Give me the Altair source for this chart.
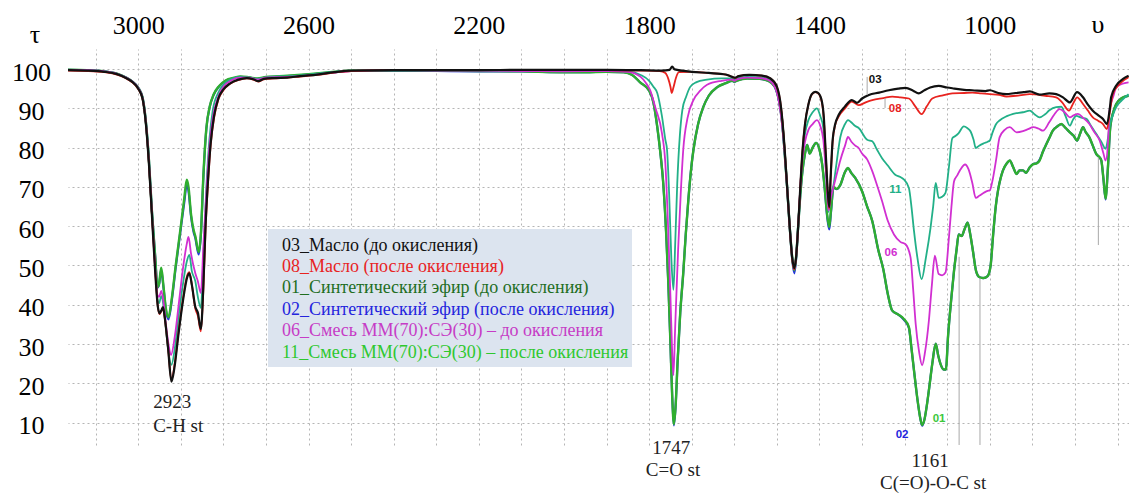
import altair as alt
import pandas as pd

# ---------------- data (wavenumber cm-1, transmittance %) ----------------
S03 = [(3165,99.7),(3120,99.6),(3080,99.3),(3050,98.7),(3030,97.8),(3015,96.8),(3000,95.0),(2990,92.5),(2982,86),(2975,76),
       (2968,63),(2960,48),(2954,39.5),(2950,37.8),(2946,38.5),(2942,39.4),(2938,37),(2930,29),(2922,20.4),(2915,24),
       (2905,33),(2895,41),(2885,47),(2880,48),(2874,45),(2866,39.5),(2860,38),(2853,33.8),(2847,45),(2842,60),
       (2836,72),(2830,81),(2822,88),(2812,92.5),(2800,94.8),(2785,96.3),(2765,97.3),(2745,97.7),(2730,97.4),(2718,96.9),
       (2705,97.5),(2680,97.7),(2650,97.8),(2620,98.2),(2580,98.6),(2540,99.2),(2500,99.6),(2400,99.7),(2300,99.7),(2200,99.7),
       (2100,99.8),(2000,99.8),(1900,99.8),(1820,99.7),(1770,99.6),(1752,99.8),(1746,100.6),(1740,99.9),(1700,99.3),(1660,99.0),
       (1620,98.6),(1605,98.0),(1598,97.8),(1590,98.2),(1565,98.5),(1535,98.3),(1515,97.6),(1500,95.5),(1490,90),(1482,80),
       (1476,70),(1470,60),(1464,52),(1459,49.3),(1455,52),(1450,60),(1445,70),(1440,79),(1434,86),(1426,91),
       (1418,93.6),(1410,94.2),(1404,94.0),(1396,92.5),(1390,88),(1385,78),(1380,68),(1377,64.9),(1374,72),(1369,82),
       (1363,86),(1355,88.3),(1340,90.5),(1324,92.1),(1312,91.4),(1300,92.5),(1284,93.4),(1260,94.0),(1237,94.6),(1215,95.0),
       (1198,95.2),(1180,94.5),(1167,93.8),(1155,94.5),(1140,95.3),(1120,95.7),(1100,95.3),(1088,95.1),(1060,94.7),(1041,94.6),
       (1010,94.4),(1000,94.6),(980,93.9),(961,93.6),(940,93.9),(920,94.1),(906,94.3),(883,93.5),(860,93.8),(844,93.6),
       (828,92.8),(812,91.5),(795,94.1),(781,92.8),(770,91),(758,89.4),(745,88.2),(734,87.3),(725,86.0),(718,90),
       (715,92.8),(703,95.8),(687,97.5),(674,98.3)]

S08 = [(3165,99.6),(3120,99.5),(3080,99.2),(3050,98.6),(3030,97.7),(3015,96.7),(3000,94.9),(2990,92.4),(2982,86),(2975,76),
       (2968,63),(2960,48.5),(2954,39.5),(2950,37.6),(2946,38.3),(2942,39.2),(2938,36.8),(2930,29),(2922,20.8),(2915,24.5),
       (2905,33.5),(2895,41.5),(2885,47.5),(2880,48.3),(2874,45),(2866,39),(2860,37.2),(2853,33.2),(2847,44),(2842,59),
       (2836,71),(2830,80.5),(2822,87.5),(2812,92.2),(2800,94.6),(2785,96.2),(2765,97.2),(2745,97.6),(2730,97.3),(2718,96.8),
       (2705,97.4),(2680,97.6),(2650,97.8),(2620,98.1),(2580,98.5),(2540,99.1),(2500,99.5),(2400,99.7),(2300,99.7),(2200,99.8),
       (2100,99.7),(2000,99.8),(1900,99.7),(1820,99.6),(1775,99.5),(1762,99.0),(1755,97.5),(1750,95.5),(1747,93.9),(1743,95.3),
       (1737,97.8),(1730,99.2),(1700,99.3),(1660,99.0),(1620,98.6),(1605,98.0),(1598,97.7),(1590,98.2),(1565,98.5),(1535,98.3),
       (1515,97.6),(1500,95.5),(1490,90),(1482,80),(1476,70),(1470,60),(1464,51.5),(1459,49.0),(1455,52),(1450,60),
       (1445,70),(1440,79),(1434,86),(1426,91),(1418,93.5),(1410,94.1),(1404,93.9),(1396,92.3),(1390,87.5),(1385,77.5),
       (1380,67.5),(1377,64.5),(1374,71.5),(1369,81.5),(1363,85.8),(1355,87.9),(1340,90),(1324,91.7),(1308,90.8),(1290,91.6),
       (1276,92.1),(1250,92.6),(1229,93.0),(1210,92.8),(1190,92.5),(1175,90.5),(1160,88.5),(1148,90.5),(1135,92.5),(1110,93.3),
       (1088,93.8),(1060,93.9),(1041,94.0),(1020,93.8),(1000,93.6),(978,93.4),(961,93.0),(930,93.3),(906,93.6),(870,93.2),
       (844,92.8),(830,91.5),(814,89.4),(803,91.5),(795,92.8),(781,91.1),(770,89.5),(758,87.7),(745,86.8),(734,86.0),
       (725,84.7),(718,89),(711,93.6),(695,96.2),(674,97.9)]

S01 = [(3165,99.8),(3120,99.7),(3080,99.4),(3050,98.8),(3030,97.9),(3015,96.9),(3000,95.2),(2990,92.8),(2982,86.5),(2975,77),
       (2968,64),(2960,52),(2955,44.5),(2951,45.5),(2946,49.4),(2941,45),(2935,39),(2929,36.8),(2922,41),(2912,50),
       (2900,60),(2892,67),(2886,71.8),(2882,70),(2876,63),(2870,59),(2866,57.5),(2858,53.4),(2853,58),(2847,73),
       (2840,85),(2832,90.5),(2823,93.5),(2810,95.7),(2795,97.1),(2775,97.8),(2760,98.1),(2740,97.9),(2720,97.6),(2700,98.0),
       (2650,98.3),(2600,98.7),(2550,99.2),(2500,99.6),(2400,99.7),(2300,99.6),(2200,99.5),(2100,99.4),(2000,99.2),(1950,99.2),
       (1900,99.3),(1860,99.2),(1840,98.5),(1820,96.5),(1800,94.5),(1790,91.5),(1781,85.3),(1774,79),(1767,71),(1760,58),
       (1755,45.5),(1750,30),(1746,17),(1742,9.6),(1738,14),(1733,26),(1727,38),(1720,48),(1714,58),(1708,66.7),
       (1700,76),(1696,79.4),(1685,86),(1673,90.3),(1660,93.2),(1640,95.4),(1620,96.4),(1605,97.0),(1600,96.8),(1595,97.0),
       (1570,97.6),(1540,97.5),(1520,97.0),(1505,95.5),(1495,92),(1488,87),(1482,79),(1476,70),(1470,60),(1464,52),
       (1459,48.8),(1455,52),(1450,60),(1445,68),(1440,74),(1434,78.5),(1429,80.7),(1423,78.5),(1416,80),(1408,81.2),
       (1400,79.5),(1394,76),(1388,70),(1382,63),(1377,59.8),(1373,64),(1367,70),(1360,69.5),(1351,70.5),(1340,73.8),
       (1333,74.8),(1325,73.5),(1316,72.3),(1300,68.9),(1288,65),(1276,61.3),(1262,54),(1250,49),(1240,43),(1229,38.5),
       (1215,37.5),(1202,36.4),(1190,34.3),(1184,29),(1178,23.3),(1170,16),(1163,11),(1159,9.4),(1153,11),(1147,15),
       (1142,19.1),(1135,25),(1127,30.1),(1121,27),(1116,25),(1108,23.5),(1103,23.5),(1098,32),(1090,42),(1084,48.6),
       (1078,54),(1073,57.9),(1066,57.5),(1060,59),(1052,60.9),(1046,58),(1040,54),(1032,48.5),(1024,47),(1015,46.8),
       (1005,47.3),(998,50),(992,58),(986,65),(980,69.5),(975,72),(969,74.2),(960,76),(953,76.7),(945,75),
       (937,73.3),(930,74.2),(922,74.2),(915,73.6),(906,75),(898,75.8),(890,76),(883,76.7),(875,79),(867,80.9),
       (860,82.5),(852,84.3),(840,85.5),(832,86),(822,85),(812,83.9),(803,83),(795,81.8),(788,83.5),(781,85.2),
       (775,84),(766,82.6),(758,80.5),(750,78.4),(742,77.5),(738,76.7),(733,72),(728,67),(723,74),(717,85.2),
       (710,89),(703,91.1),(690,92.6),(674,93.2)]

S02 = [(3165,99.8),(3120,99.7),(3080,99.4),(3050,98.8),(3030,97.9),(3015,96.9),(3000,95.2),(2990,92.8),(2982,86.5),(2975,77),
       (2968,64),(2960,52),(2955,44.3),(2951,45.2),(2946,48.8),(2941,44.6),(2935,38.6),(2929,36.3),(2922,40.5),(2912,49.5),
       (2900,59.5),(2892,66),(2886,70.6),(2882,69),(2876,62.5),(2870,58.5),(2866,57),(2858,52.8),(2853,57.5),(2847,72.5),
       (2840,84.8),(2832,90.4),(2823,93.4),(2810,95.6),(2795,97.0),(2775,97.7),(2760,98.0),(2740,97.8),(2720,97.5),(2700,97.9),
       (2650,98.2),(2600,98.6),(2550,99.1),(2500,99.5),(2400,99.6),(2300,99.5),(2200,99.4),(2100,99.4),(2000,99.2),(1950,99.2),
       (1900,99.3),(1860,99.2),(1840,98.5),(1820,96.5),(1800,94.5),(1790,91.5),(1781,85.3),(1774,79),(1767,71),(1760,58),
       (1755,45.5),(1750,30),(1746,17),(1742,9.3),(1738,14),(1733,26),(1727,38),(1720,48),(1714,58),(1708,66.7),
       (1700,76),(1696,79.4),(1685,86),(1673,90.3),(1660,93.2),(1640,95.4),(1620,96.4),(1605,97.0),(1600,96.8),(1595,97.0),
       (1570,97.6),(1540,97.5),(1520,97.0),(1505,95.5),(1495,92),(1488,87),(1482,79),(1476,70),(1470,60),(1464,51.5),
       (1459,48.0),(1455,51.5),(1450,60),(1445,68),(1440,74),(1434,78.5),(1429,80.7),(1423,78.5),(1416,80),(1408,81.2),
       (1400,79.5),(1394,76),(1388,70),(1382,62.5),(1377,59.2),(1373,63.5),(1367,69.8),(1360,69.4),(1351,70.5),(1340,73.8),
       (1333,74.8),(1325,73.5),(1316,72.3),(1300,68.9),(1288,65),(1276,61.3),(1262,54),(1250,49),(1240,43),(1229,38.5),
       (1215,37.5),(1202,36.2),(1190,34.1),(1184,29),(1178,23.3),(1170,16),(1163,11),(1159,9.2),(1153,11),(1147,15),
       (1142,19.1),(1135,25),(1127,30.1),(1121,27),(1116,25),(1108,23.5),(1103,23.5),(1098,32),(1090,42),(1084,48.6),
       (1078,54),(1073,57.9),(1066,57.5),(1060,59),(1052,60.9),(1046,58),(1040,54),(1032,48.5),(1024,47),(1015,46.8),
       (1005,47.3),(998,50),(992,58),(986,65),(980,69.5),(975,72),(969,74.2),(960,76),(953,76.7),(945,75),
       (937,73.3),(930,74.2),(922,74.2),(915,73.6),(906,75),(898,75.8),(890,76),(883,76.9),(875,79),(867,80.9),
       (860,82.5),(852,84.3),(840,85.5),(832,86),(822,85),(812,83.9),(803,83),(795,81.8),(788,83.5),(781,85.2),
       (775,84),(766,82.6),(758,80.5),(750,78.4),(742,77.5),(738,76.7),(733,72),(728,66.8),(723,74),(717,85.2),
       (710,89),(703,91.1),(690,92.6),(674,93.2)]

S11 = [(3165,99.8),(3120,99.7),(3080,99.4),(3050,98.8),(3030,97.9),(3015,96.9),(3000,95.2),(2990,92.7),(2982,86.3),(2975,76.5),
       (2968,63.5),(2960,50),(2955,41.5),(2951,40.4),(2946,42.2),(2941,40),(2935,34),(2929,28),(2922,24.7),(2914,29),
       (2904,38),(2894,46),(2886,51),(2880,52.7),(2874,48.5),(2866,46),(2860,42),(2853,39.2),(2847,52),(2840,70),
       (2833,82),(2825,89.5),(2812,94),(2800,96),(2780,97.5),(2760,98.0),(2740,97.9),(2720,97.5),(2700,97.9),(2650,98.2),
       (2600,98.6),(2550,99.2),(2500,99.6),(2400,99.7),(2300,99.6),(2200,99.6),(2100,99.5),(2000,99.4),(1900,99.5),(1850,99.4),
       (1820,98.5),(1800,97),(1790,95.5),(1781,93.9),(1770,88),(1762,82),(1758,79.4),(1753,68),(1748,52),(1743,43.8),
       (1739,55),(1734,71),(1728,83),(1722,89.6),(1713,93),(1704,95.4),(1690,96.6),(1664,97.3),(1630,97.6),(1605,97.6),
       (1600,97.2),(1595,97.6),(1570,98.0),(1540,97.9),(1520,97.4),(1505,95.5),(1495,91.5),(1488,86),(1482,79),(1476,70),
       (1470,60),(1464,52),(1459,49),(1455,52),(1450,60),(1445,70),(1440,78),(1434,83.5),(1426,87),(1416,89),
       (1406,90),(1398,88),(1391,85),(1385,75),(1379,63.6),(1373,68),(1367,70.5),(1360,76),(1351,82.7),(1340,86),
       (1333,87),(1327,86.6),(1316,85.5),(1308,85),(1288,82),(1276,81.6),(1265,79.5),(1253,77.3),(1240,75.5),(1222,73.1),
       (1210,72.5),(1202,71.9),(1190,69.7),(1184,65),(1178,58.8),(1170,52),(1160,46.5),(1150,52),(1139,59.7),(1133,65),
       (1127,71),(1120,67.2),(1112,67.5),(1104,68.5),(1096,75),(1088,82.4),(1080,83),(1073,83.7),(1061,85.4),(1053,85),
       (1045,84.1),(1038,82),(1033,79.9),(1025,80.5),(1014,81.1),(1005,81.5),(1000,81.8),(994,83.7),(985,86),(977,86.9),
       (960,88),(945,88.6),(922,89),(906,89.4),(895,88.5),(883,87.7),(870,88.5),(860,89.5),(844,90.3),(832,90.4),
       (822,88),(812,85.6),(805,87),(797,88.1),(785,87.6),(773,87.3),(762,85.5),(750,83.5),(738,81.5),(728,79.7),
       (723,82),(719,85.2),(710,88.5),(703,90.3),(690,92),(674,93.6)]

S06 = [(3165,99.8),(3120,99.7),(3080,99.4),(3050,98.8),(3030,97.9),(3015,96.9),(3000,95.2),(2990,92.7),(2982,86.3),(2975,76.5),
       (2968,63.5),(2960,49),(2955,42.5),(2951,42),(2946,43.5),(2941,41),(2935,35),(2929,30),(2923,27.2),(2914,32),
       (2904,41),(2894,50),(2886,55.5),(2882,57.3),(2876,53),(2866,48),(2860,46),(2853,43),(2847,55),(2840,68.4),
       (2833,80),(2825,87.5),(2812,93),(2800,95.5),(2780,97.2),(2760,97.8),(2740,97.8),(2720,97.3),(2700,97.8),(2650,98.0),
       (2600,98.4),(2550,99.0),(2500,99.5),(2400,99.7),(2300,99.6),(2200,99.6),(2100,99.5),(2000,99.4),(1900,99.5),(1850,99.3),
       (1820,98),(1808,96.5),(1798,94.7),(1785,90),(1770,83.7),(1762,76),(1755,58.2),(1750,42),(1746,28),(1743,22.1),
       (1739,34),(1732,54),(1726,68),(1720,79.4),(1710,87.5),(1696,92.1),(1680,94.5),(1664,96),(1630,97),(1605,97.3),
       (1600,97.0),(1595,97.3),(1570,97.8),(1540,97.7),(1520,97.2),(1505,95.5),(1495,91.5),(1488,86),(1482,79),(1476,70),
       (1470,60),(1464,52),(1459,49),(1455,52),(1450,60),(1445,70),(1440,77),(1434,81.5),(1426,84.5),(1416,86),
       (1406,87),(1398,85.5),(1391,82),(1385,74),(1379,64),(1373,67.5),(1367,70),(1360,73),(1351,76.8),(1340,80.5),
       (1333,82.7),(1325,81.5),(1316,80.5),(1308,79.9),(1300,78.5),(1288,77),(1276,74),(1265,70.5),(1253,66.4),(1240,61.5),
       (1225,57.9),(1210,56),(1198,55.4),(1186,52),(1180,44),(1174,35.1),(1166,28),(1159,24.6),(1152,28),(1143,36),
       (1136,45),(1129,52.5),(1120,47.8),(1112,47.5),(1104,48.2),(1096,57),(1090,65),(1084,71.4),(1076,73),(1069,74.4),
       (1058,75.7),(1050,74.5),(1041,71),(1033,67.2),(1024,67.8),(1014,68.5),(1005,69),(1000,69.1),(994,71.4),(985,77),
       (977,82.6),(965,84.5),(953,85.2),(937,83.9),(922,84.2),(910,84.7),(898,85.2),(885,84.8),(875,84.3),(860,86.5),
       (848,88.5),(836,89.8),(824,89),(812,87.7),(803,88.2),(793,88.6),(780,87.5),(766,86),(755,84),(742,81.8),
       (733,78.5),(728,76.7),(722,82),(719,89.4),(710,93),(703,95.3),(690,96.2),(674,96.6)]

X_GRID = [3100, 3000, 2900, 2800, 2700, 2600, 2500, 2400, 2300, 2200, 2100, 2000, 1900,
          1800, 1700, 1600, 1500, 1400, 1300, 1200, 1100, 1000, 900, 800, 700]
Y_GRID = [10, 20, 30, 40, 50, 60, 70, 80, 90, 100]

LEGEND_TEXT = ["03_Масло (до окисления)",
               "08_Масло (после окисления)",
               "01_Синтетический эфир (до окисления)",
               "02_Синтетический эфир (после окисления)",
               "06_Смесь ММ(70):СЭ(30) – до окисления",
               "11_Смесь ММ(70):СЭ(30) – после окисления"]
LEGEND_COLORS = ["#111111", "#e8231f", "#1f6e1f", "#2424dd", "#c63cc6", "#2ec82e"]

# series: name, points, color, line width  (drawing order)
SERIES = [("02", S02, "#2233dd", 2.2),
          ("01", S01, "#2fae2f", 2.4),
          ("11", S11, "#22b088", 1.8),
          ("06", S06, "#d12fd1", 1.8),
          ("08", S08, "#e8231f", 1.8),
          ("03", S03, "#111111", 2.2)]

CURVE_LABELS = pd.DataFrame({
    "wn": [1269, 1222, 1222, 1232, 1206, 1119],
    "t": [97.2, 89.8, 69.2, 53.2, 6.9, 10.9],
    "txt": ["03", "08", "11", "06", "02", "01"],
    "col": ["#111111", "#e8231f", "#22b088", "#d12fd1", "#2424dd", "#3cc83c"],
})

ANNOT = pd.DataFrame({
    "wn": [2965, 2965, 1748, 1744, 1140, 1133],
    "t": [15.3, 9.2, 3.6, -2.0, 0.25, -5.3],
    "txt": ["2923", "C-H st", "1747", "C=O st", "1161", "C(=O)-O-C st"],
    "al": ["left", "left", "center", "center", "center", "center"],
})

LEADERS = pd.DataFrame({
    "wn": [1288, 1246, 1072, 1023, 745],
    "t": [98.0, 92.6, 52.2, 46.8, 77.5],
    "t2": [93.4, 90.1, 4.3, 4.3, 55.2],
})

# ---------------- chart ----------------
FONT = "Times New Roman, Liberation Serif, DejaVu Serif, serif"
xscale = alt.Scale(domain=[673, 3165], reverse=True, nice=False, zero=False)
yscale = alt.Scale(domain=[4.3, 105.1], nice=False, zero=False)

xaxis = alt.Axis(orient="top", values=X_GRID, title=None,
                 labelExpr="(datum.value >= 1000 && (3000 - datum.value) % 400 == 0) ? format(datum.value, 'd') : ''",
                 grid=True, gridColor="#b5b5b5", gridDash=[2, 3], gridWidth=1,
                 domain=False, ticks=False, tickSize=0,
                 labelFont=FONT, labelFontSize=26, labelColor="#000000",
                 labelBaseline="alphabetic", labelPadding=16, labelFlush=False, labelOverlap=False)
yaxis = alt.Axis(orient="left", values=Y_GRID, title=None,
                 grid=True, gridColor="#b5b5b5", gridDash=[2, 3], gridWidth=1,
                 domain=False, ticks=False, tickSize=0,
                 labelFont=FONT, labelFontSize=26, labelColor="#000000",
                 labelAlign="center", labelBaseline="middle", labelPadding=37, labelOffset=3,
                 labelFlush=False, labelOverlap=False)

X = alt.X("wn:Q", scale=xscale, axis=xaxis)
Y = alt.Y("t:Q", scale=yscale, axis=yaxis)

layers = []

# legend box
dummy = pd.DataFrame({"a": [0]})
layers.append(alt.Chart(dummy).mark_rect(color="#dce4ef").encode(
    x=alt.value(200), x2=alt.value(564), y=alt.value(180), y2=alt.value(318)))

for name, pts, color, w in SERIES:
    df = pd.DataFrame(pts, columns=["wn", "t"])
    layers.append(alt.Chart(df).mark_line(color=color, strokeWidth=w, interpolate="monotone").encode(
        x=X, y=Y))

layers.append(alt.Chart(LEADERS).mark_rule(color="#a8a8a8", strokeWidth=1).encode(
    x=X, y=Y, y2="t2:Q"))

layers.append(alt.Chart(CURVE_LABELS).mark_text(font="Liberation Sans, Arial, sans-serif", fontWeight="bold",
                                                 fontSize=11.5, align="center", baseline="middle").encode(
    x=X, y=Y, text="txt:N", color=alt.Color("col:N", scale=None)))

for al in ["left", "center"]:
    layers.append(alt.Chart(ANNOT[ANNOT["al"] == al]).mark_text(font=FONT, fontSize=19, align=al,
                                                               baseline="middle", color="#222222").encode(
        x=X, y=Y, text="txt:N"))

for i, (txt, col) in enumerate(zip(LEGEND_TEXT, LEGEND_COLORS)):
    layers.append(alt.Chart(dummy).mark_text(font=FONT, fontSize=18, align="left", baseline="middle",
                                             color=col, text=txt).encode(
        x=alt.value(214), y=alt.value(196.5 + 21.4 * i)))

layers.append(alt.Chart(dummy).mark_text(font=FONT, fontSize=26, align="center", baseline="alphabetic",
                                         color="#000000", text="τ").encode(x=alt.value(-33), y=alt.value(-6)))
layers.append(alt.Chart(dummy).mark_text(font=FONT, fontSize=26, align="center", baseline="alphabetic",
                                         color="#000000", text="υ").encode(x=alt.value(1030), y=alt.value(-16)))

chart = alt.layer(*layers).properties(
    width=1061, height=396,
    padding={"left": 68, "top": 49, "right": 0, "bottom": 48},
    autosize=alt.AutoSizeParams(type="none"),
    background="white",
).configure_view(stroke=None)

chart.save("out.html", embed_options={"renderer": "svg", "actions": False})
